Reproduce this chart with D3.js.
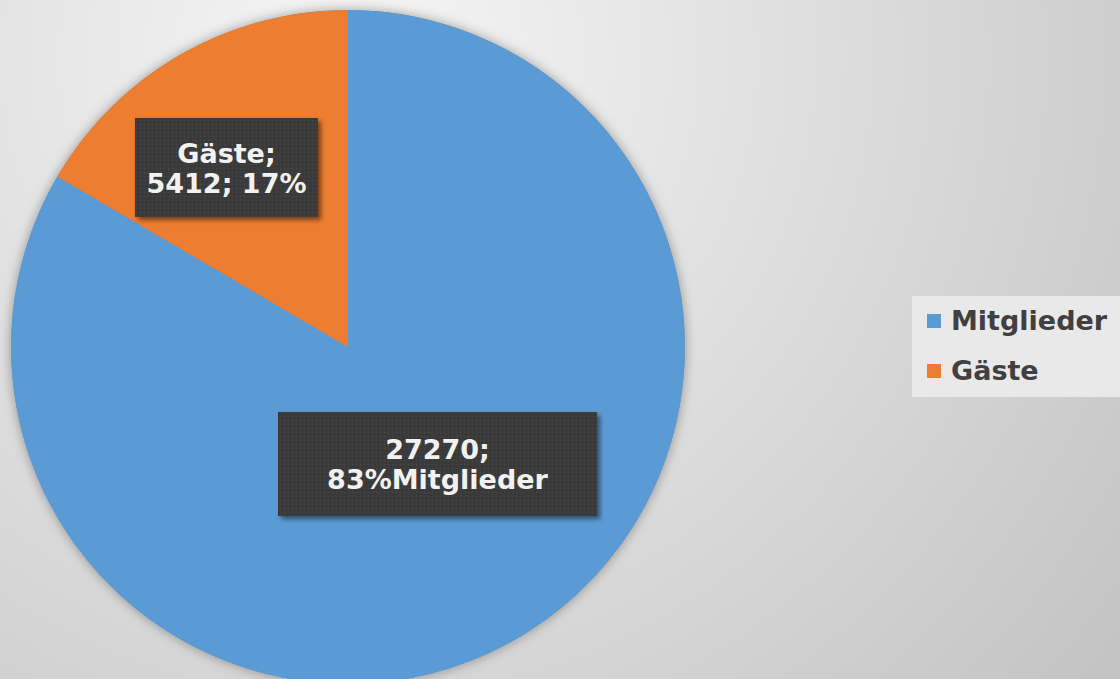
<!DOCTYPE html>
<html>
<head>
<meta charset="utf-8">
<script src="https://cdn.jsdelivr.net/npm/d3@7"></script>
<style>
  html, body { margin: 0; padding: 0; overflow: hidden; }
  svg { display: block; }
</style>
</head>
<body>
<script>
// data
const categories = ["Mitglieder", "Gäste"];
const values = [27270, 5412];
const percents = ["83%", "17%"];
const colors = ["#5b9bd5", "#ed7d31"];

const width = 1120,
    height = 679,
    cx = 348,
    cy = 347,
    radius = 337;

const font = "'DejaVu Sans', Verdana, sans-serif";

const svg = d3.select('body').append('svg')
    .attr('width', width)
    .attr('height', height);

const defs = svg.append('defs');

// soft grey background, light top-left, darker bottom-right
const bg = defs.append('radialGradient')
    .attr('id', 'bg')
    .attr('gradientUnits', 'userSpaceOnUse')
    .attr('cx', 350).attr('cy', 60).attr('r', 1000);
bg.append('stop').attr('offset', '0%').attr('stop-color', '#f6f6f6');
bg.append('stop').attr('offset', '100%').attr('stop-color', '#c2c2c2');

const shadow = defs.append('filter').attr('id', 'shadow')
    .attr('x', '-10%').attr('y', '-10%').attr('width', '120%').attr('height', '120%');
shadow.append('feDropShadow')
    .attr('dx', 0).attr('dy', 0).attr('stdDeviation', 6)
    .attr('flood-color', '#000').attr('flood-opacity', 0.35);

const boxShadow = defs.append('filter').attr('id', 'boxShadow')
    .attr('x', '-10%').attr('y', '-10%').attr('width', '125%').attr('height', '130%');
boxShadow.append('feDropShadow')
    .attr('dx', 3).attr('dy', 3).attr('stdDeviation', 2.5)
    .attr('flood-color', '#000').attr('flood-opacity', 0.5);

// tiny dotted texture for the label boxes
const pat = defs.append('pattern').attr('id', 'tex')
    .attr('patternUnits', 'userSpaceOnUse').attr('width', 4).attr('height', 4);
pat.append('rect').attr('width', 4).attr('height', 4).attr('fill', '#3b3b3b');
pat.append('rect').attr('x', 0).attr('y', 0).attr('width', 1).attr('height', 1).attr('fill', '#474747');
pat.append('rect').attr('x', 2).attr('y', 2).attr('width', 1).attr('height', 1).attr('fill', '#333333');

svg.append('rect')
    .attr('width', width).attr('height', height)
    .attr('fill', 'url(#bg)');

const pie = d3.pie().sort(null).value(d => d.value);
const arc = d3.arc().innerRadius(0).outerRadius(radius);

const data = categories.map((c, i) => ({ name: c, value: values[i], pct: percents[i], color: colors[i] }));
const arcs = pie(data);

const g = svg.append('g').attr('transform', `translate(${cx},${cy})`);

g.append('circle').attr('r', radius).attr('fill', '#888').attr('filter', 'url(#shadow)');

g.selectAll('path.slice')
    .data(arcs)
    .join('path')
    .attr('class', 'slice')
    .attr('d', arc)
    .attr('fill', d => d.data.color);

// data labels (boxes positioned as in the picture)
const labels = [
  { lines: [categories[1] + ";", values[1] + "; " + percents[1]], x: 135, y: 118, w: 183, h: 99 },
  { lines: [values[0] + ";", percents[0] + categories[0]], x: 278, y: 412, w: 319, h: 104 }
];

labels.forEach(l => {
  svg.append('rect')
      .attr('x', l.x).attr('y', l.y).attr('width', l.w).attr('height', l.h)
      .attr('fill', 'url(#tex)')
      .attr('filter', 'url(#boxShadow)');
  const t = svg.append('text')
      .attr('x', l.x + l.w / 2)
      .attr('y', l.y + l.h / 2 - 5)
      .attr('text-anchor', 'middle')
      .style('font-family', font)
      .style('font-weight', 'bold')
      .style('font-size', '27px')
      .style('fill', '#f2f2f2');
  l.lines.forEach((s, i) => {
    t.append('tspan')
        .attr('x', l.x + l.w / 2)
        .attr('dy', i === 0 ? 0 : 30)
        .text(s);
  });
});

// legend
const legend = svg.append('g').attr('transform', 'translate(912,296)');
legend.append('rect')
    .attr('width', 210).attr('height', 101)
    .attr('fill', '#e9e9e9');

const item = legend.selectAll('g.item')
    .data(data)
    .join('g')
    .attr('class', 'item')
    .attr('transform', (d, i) => `translate(0,${34 + i * 50})`);

item.append('rect')
    .attr('x', 15).attr('y', -16).attr('width', 14).attr('height', 14)
    .attr('fill', d => d.color);

item.append('text')
    .attr('x', 39).attr('y', 0)
    .style('font-family', font)
    .style('font-weight', 'bold')
    .style('font-size', '27px')
    .style('fill', '#404040')
    .text(d => d.name);
</script>
</body>
</html>
